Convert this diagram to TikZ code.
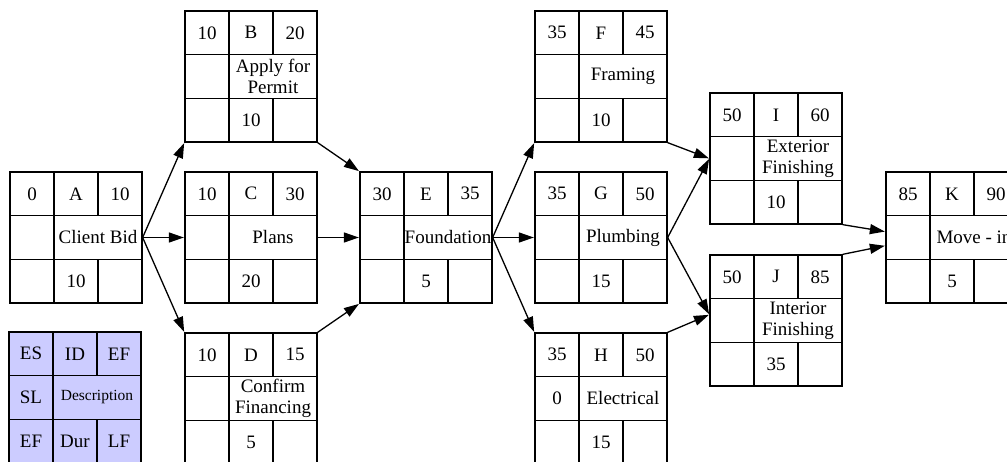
\documentclass[tikz,border=0pt]{standalone}
\usepackage{fontspec}
\setmainfont{Liberation Serif}
\usetikzlibrary{arrows.meta}

\definecolor{legendfill}{HTML}{CCCCFF}

\tikzset{
  actframe/.style={draw, line width=1.3pt, minimum width=132pt, minimum height=131pt, inner sep=0pt},
  cellline/.style={line width=1.3pt},
  celltext/.style={inner sep=0pt, align=center, font=\fontsize{19}{21}\selectfont},
  smalltext/.style={inner sep=0pt, align=center, font=\fontsize{15.5}{18}\selectfont},
  link/.style={line width=1.3pt, -{Triangle[length=15pt,width=10pt]}, shorten >=0.5pt}
}

% one activity box: name, left, top, ES, ID, EF, SL, description, duration
\newcommand{\actbox}[9]{%
  \begin{scope}[shift={(#2,#3)}]
    \node[actframe] (#1) at (66,65.5) {};
    \draw[cellline] (44,0) -- (44,131);
    \draw[cellline] (88,0) -- (88,43.67);
    \draw[cellline] (88,87.33) -- (88,131);
    \draw[cellline] (0,43.67) -- (132,43.67);
    \draw[cellline] (0,87.33) -- (132,87.33);
    \node[celltext] (#1-es) at (22,21.8) {#4};
    \node[celltext] (#1-id) at (66,21.8) {#5};
    \node[celltext] (#1-ef) at (110,21.8) {#6};
    \node[celltext] (#1-sl) at (22,65.5) {#7};
    \node[celltext] (#1-desc) at (88,65.5) {#8};
    \node[celltext] (#1-dur) at (66,109.2) {#9};
  \end{scope}}

\begin{document}
\begin{tikzpicture}[x=1pt, y=-1pt]
  \useasboundingbox (0,0) rectangle (1007,462);
  \clip (0,0) rectangle (1007,462);

  % legend
  \begin{scope}[shift={(9,332)}]
    \node[actframe, fill=legendfill] (legend) at (66,65.5) {};
    \draw[cellline] (44,0) -- (44,131);
    \draw[cellline] (88,0) -- (88,43.67);
    \draw[cellline] (88,87.33) -- (88,131);
    \draw[cellline] (0,43.67) -- (132,43.67);
    \draw[cellline] (0,87.33) -- (132,87.33);
    \node[celltext] (legend-es) at (22,21.8) {ES};
    \node[celltext] (legend-id) at (66,21.8) {ID};
    \node[celltext] (legend-ef) at (110,21.8) {EF};
    \node[celltext] (legend-sl) at (22,65.5) {SL};
    \node[smalltext] (legend-desc) at (88,65.5) {Description};
    \node[celltext] (legend-eff) at (22,109.2) {EF};
    \node[celltext] (legend-dur) at (66,109.2) {Dur};
    \node[celltext] (legend-lf) at (110,109.2) {LF};
  \end{scope}

  % activities
  \actbox{A}{10}{172}{0}{A}{10}{}{Client Bid}{10}
  \actbox{B}{185}{11}{10}{B}{20}{}{Apply for\\Permit}{10}
  \actbox{C}{185}{172}{10}{C}{30}{}{Plans}{20}
  \actbox{D}{185}{333}{10}{D}{15}{}{Confirm\\Financing}{5}
  \actbox{E}{360}{172}{30}{E}{35}{}{Foundation}{5}
  \actbox{F}{535}{11}{35}{F}{45}{}{Framing}{10}
  \actbox{G}{535}{172}{35}{G}{50}{}{Plumbing}{15}
  \actbox{H}{535}{333}{35}{H}{50}{0}{Electrical}{15}
  \actbox{I}{710}{93}{50}{I}{60}{}{Exterior\\Finishing}{10}
  \actbox{J}{710}{255}{50}{J}{85}{}{Interior\\Finishing}{35}
  \actbox{K}{886}{172}{85}{K}{90}{}{Move - in}{5}

  % precedence links
  \draw[link] (A.east) -- (B.south west);
  \draw[link] (A.east) -- (C.west);
  \draw[link] (A.east) -- (D.north west);
  \draw[link] (B.south east) -- (E.north west);
  \draw[link] (C.east) -- (E.west);
  \draw[link] (D.north east) -- (E.south west);
  \draw[link] (E.east) -- (F.south west);
  \draw[link] (E.east) -- (G.west);
  \draw[link] (E.east) -- (H.north west);
  \draw[link] (F.south east) -- (I.west);
  \draw[link] (G.east) -- (I.west);
  \draw[link] (G.east) -- (J.175);
  \draw[link] (H.north east) -- (J.175);
  \draw[link] (I.south east) -- (K.175);
  \draw[link] (J.north east) -- (K.187);
\end{tikzpicture}
\end{document}
